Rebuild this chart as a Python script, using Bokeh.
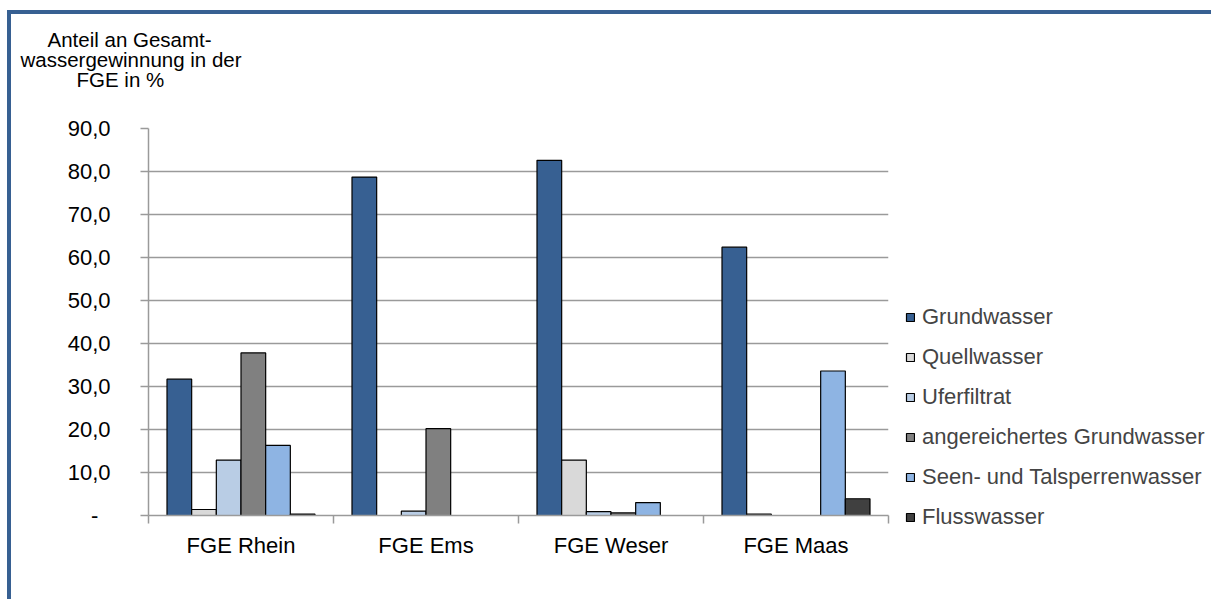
import numpy as np
from bokeh.plotting import figure
from bokeh.models import FixedTicker, Legend, LegendItem, Title, LinearAxis
from bokeh.embed import file_html
from bokeh.resources import INLINE

categories = ["FGE Rhein", "FGE Ems", "FGE Weser", "FGE Maas"]
series = ["Grundwasser", "Quellwasser", "Uferfiltrat", "angereichertes Grundwasser",
          "Seen- und Talsperrenwasser", "Flusswasser"]
grundwasser = [31.7, 78.7, 82.6, 62.4]
quellwasser = [1.4, 0.0, 12.9, 0.3]
uferfiltrat = [12.9, 1.0, 0.9, 0.0]
angereichert = [37.8, 20.2, 0.6, 0.0]
seen_talsperren = [16.3, 0.0, 3.0, 33.6]
flusswasser = [0.3, 0.0, 0.0, 3.9]
colors = ["#376092", "#D9D9D9", "#B9CDE5", "#808080", "#8EB4E3", "#404040"]
y_ticks = [0, 10, 20, 30, 40, 50, 60, 70, 80, 90]
y_tick_labels = ["-\u00a0\u00a0", "10,0", "20,0", "30,0", "40,0", "50,0", "60,0", "70,0", "80,0", "90,0"]
y_title_lines = ["Anteil an Gesamt-", "wassergewinnung in der", "FGE in %"]
y_title_offsets = [-101, -128, -72]   # left edge of each line relative to the frame, px

values = [grundwasser, quellwasser, uferfiltrat, angereichert, seen_talsperren, flusswasser]

FONT = "Liberation Sans"
GRAY = "#9a9a9a"

p = figure(frame_width=740, frame_height=387, output_backend="svg", toolbar_location=None,
           x_range=(0, 4), y_range=(0, 90),
           min_border_left=137, min_border_right=319, min_border_top=114, min_border_bottom=84)
p.margin = (10, 0, 0, 7)
p.styles = {"border-left": "4px solid #376092", "border-top": "4px solid #376092"}
p.outline_line_color = None
p.background_fill_color = "white"
p.border_fill_color = "white"

xs = np.arange(len(categories)) + 0.5
n = len(series)
w = 0.8 / n
items = []
for k, (name, vals, col) in enumerate(zip(series, values, colors)):
    off = (k - (n - 1) / 2) * w
    r = p.vbar(x=xs + off, top=vals, width=w, bottom=0,
               fill_color=col, line_color="black", line_width=1.2)
    items.append(LegendItem(label=name, renderers=[r]))

# y axis
p.yaxis.ticker = FixedTicker(ticks=y_ticks)
p.yaxis.major_label_overrides = {t: l for t, l in zip(y_ticks, y_tick_labels)}
p.yaxis.major_tick_out = 8
p.yaxis.major_tick_in = 0
p.yaxis.minor_tick_line_color = None
p.yaxis.major_label_standoff = 30
p.yaxis.axis_line_color = GRAY
p.yaxis.axis_line_width = 1.5
p.yaxis.major_tick_line_color = GRAY
p.yaxis.major_tick_line_width = 1.5
p.yaxis.major_label_text_font = FONT
p.yaxis.major_label_text_font_size = "22px"
p.yaxis.major_label_text_color = "black"

# x axis
p.xaxis.ticker = FixedTicker(ticks=list(xs), minor_ticks=list(range(len(categories) + 1)))
p.xaxis.major_label_overrides = {float(x): c for x, c in zip(xs, categories)}
p.xaxis.major_tick_out = 0
p.xaxis.major_tick_in = 0
p.xaxis.major_tick_line_color = None
p.xaxis.minor_tick_out = 8
p.xaxis.minor_tick_in = 0
p.xaxis.minor_tick_line_color = GRAY
p.xaxis.minor_tick_line_width = 1.5
p.xaxis.axis_line_color = GRAY
p.xaxis.axis_line_width = 1.5
p.xaxis.major_label_standoff = 9
p.xaxis.major_label_text_font = FONT
p.xaxis.major_label_text_font_size = "22px"
p.xaxis.major_label_text_color = "black"

p.xgrid.grid_line_color = None
p.ygrid.ticker = FixedTicker(ticks=y_ticks)
p.ygrid.grid_line_color = GRAY
p.ygrid.grid_line_width = 1.5

legend = Legend(items=items, location=(17, -15), orientation="vertical",
                glyph_width=10, glyph_height=10, label_standoff=7,
                label_height=25, spacing=14, padding=0, margin=0,
                label_text_font=FONT, label_text_font_size="22px",
                border_line_color=None, background_fill_alpha=0)
p.add_layout(legend, "right")

# invisible spacer axis between frame and the title block
spacer = LinearAxis(ticker=FixedTicker(ticks=[2], minor_ticks=[]), axis_line_color=None,
                    major_tick_line_alpha=0, minor_tick_line_alpha=0,
                    major_tick_out=40, major_tick_in=0, minor_tick_out=0,
                    major_label_overrides={2: ""}, major_label_standoff=0,
                    major_label_text_font_size="1px", major_label_text_alpha=0)
p.add_layout(spacer, "above")

# stacked title lines: first added sits closest to the frame
for line, off in reversed(list(zip(y_title_lines, y_title_offsets))):
    t = Title(text=line, align="left", offset=off, vertical_align="bottom",
              standoff=-5, text_font=FONT, text_font_size="20.5px",
              text_font_style="normal", text_color="black")
    p.add_layout(t, "above")

open("out.html", "w").write(file_html(p, INLINE))
